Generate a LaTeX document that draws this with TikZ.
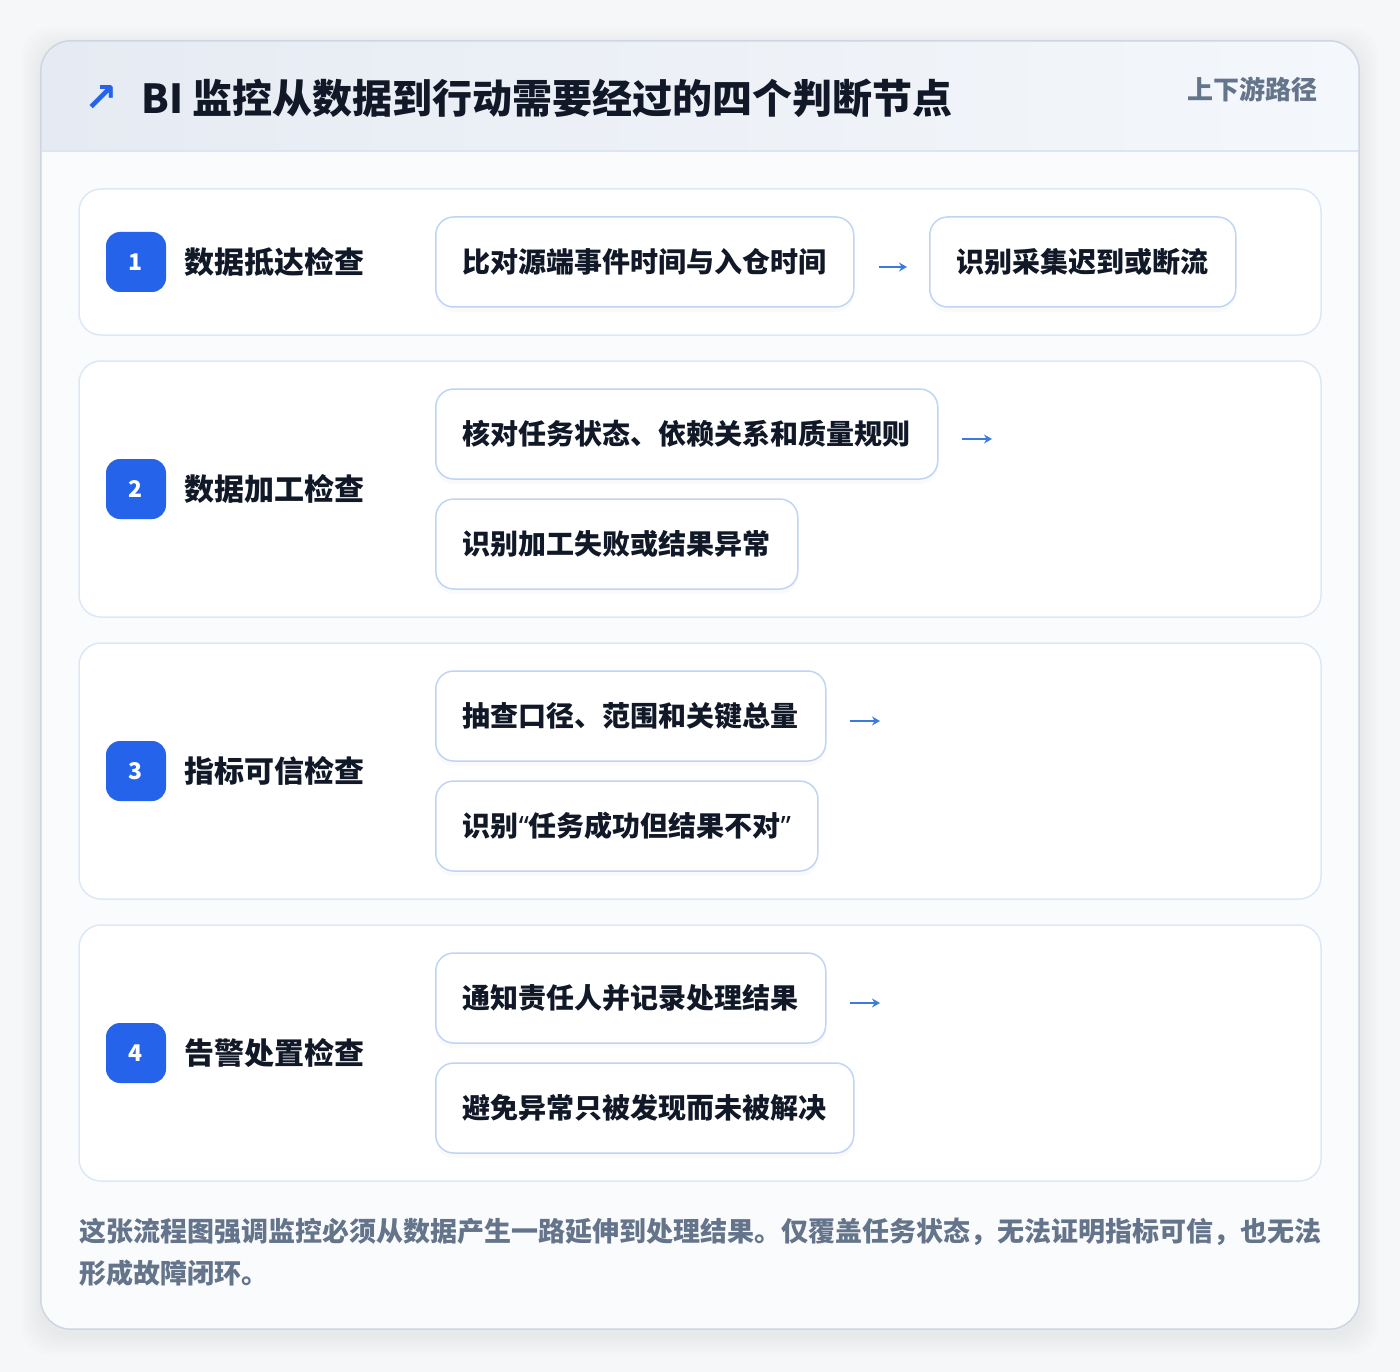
\documentclass[tikz,border=0pt]{standalone}
\usepackage{fontspec}
\setmainfont{Noto Sans CJK SC}
\newfontfamily\symfont{DejaVu Sans}
\newfontfamily\quotefont{Noto Sans}
\usetikzlibrary{arrows.meta,positioning,shadows}
\definecolor{pageColor}{HTML}{F6F7F9}
\definecolor{cardColor}{HTML}{FAFBFD}
\definecolor{cardEdge}{HTML}{CDD6E2}
\definecolor{headLeft}{HTML}{E6EBF3}
\definecolor{headRight}{HTML}{F4F7FB}
\definecolor{headLine}{HTML}{DCE6F3}
\definecolor{panelColor}{HTML}{DDE8F6}
\definecolor{stepColor}{HTML}{BFD5F5}
\definecolor{badgeColor}{HTML}{2563EB}
\definecolor{inkColor}{HTML}{111827}
\definecolor{mutedColor}{HTML}{64748B}
\definecolor{arrowColor}{HTML}{3B7BE0}
\newcommand{\openq}{{\quotefont\bfseries “}}
\newcommand{\closeq}{{\quotefont\bfseries ”}}
\begin{document}
\begin{tikzpicture}[x=1pt,y=-1pt,
	panel/.style={draw=panelColor, line width=1.5pt, fill=white, rounded corners=22pt, minimum width=1242pt, inner sep=0},
	badge/.style={fill=badgeColor, rounded corners=14pt, minimum size=60pt, inner sep=0, text=white, font=\fontsize{23}{25}\selectfont\bfseries},
	rowname/.style={anchor=west, inner sep=0, text=inkColor, font=\fontsize{30}{36}\selectfont\bfseries},
	stepbox/.style={draw=stepColor, line width=1.5pt, fill=white, rounded corners=18pt, minimum height=90pt, inner xsep=27pt, anchor=west, text=inkColor, font=\fontsize{28}{34}\selectfont\bfseries, drop shadow={opacity=0.04, shadow xshift=0pt, shadow yshift=-5pt}},
	flow/.style={draw=arrowColor, line width=2.5pt, -{Stealth[length=8pt,width=9pt]}}]
	\path[use as bounding box, fill=pageColor] (0,0) rectangle (1400,1372);
	% soft halo round the card
	\foreach \s in {2,5,...,20}
		\fill[black, opacity=0.008, rounded corners=30pt] (41-\s,47-\s) rectangle (1359+\s,1335+\s);
	\node[fill=cardColor, rounded corners=30pt, minimum width=1318pt, minimum height=1288pt, inner sep=0] (card) at (700,685) {};
	\begin{scope}
		\clip[rounded corners=30pt] (card.north west) rectangle (card.south east);
		\shade[left color=headLeft, right color=headRight] (41,41) rectangle (1359,151);
	\end{scope}
	\draw[headLine, line width=1.5pt] (41,151) -- (1359,151);
	\draw[cardEdge, line width=1.5pt, rounded corners=30pt] (card.north west) rectangle (card.south east);
	% header
	\node[inner sep=0, text=badgeColor, font=\symfont\bfseries\fontsize{40}{44}\selectfont] (icon) at (101,99) {↗};
	\node[anchor=west, inner sep=0, text=inkColor, font=\fontsize{40}{48}\selectfont\bfseries] (title) at (141,98) {BI 监控从数据到行动需要经过的四个判断节点};
	\node[anchor=east, inner sep=0, text=mutedColor, font=\fontsize{26}{30}\selectfont\bfseries] (tag) at (1318,89) {上下游路径};
	% row 1
	\node[panel, minimum height=146pt] (row1) at (700,262) {};
	\node[badge] (n1) at (136,262) {1};
	\node[rowname] (t1) at (184,262) {数据抵达检查};
	\node[stepbox] (s1a) at (435,262) {比对源端事件时间与入仓时间};
	\node[stepbox] (s1b) at (929,262) {识别采集迟到或断流};
	\draw[flow, shorten <=24pt, shorten >=22pt] ([yshift=-5pt]s1a.east) -- ([yshift=-5pt]s1b.west);
	% row 2
	\node[panel, minimum height=256pt] (row2) at (700,489) {};
	\node[badge] (n2) at (136,489) {2};
	\node[rowname] (t2) at (184,489) {数据加工检查};
	\node[stepbox] (s2a) at (435,434) {核对任务状态、依赖关系和质量规则};
	\node[stepbox] (s2b) at (435,544) {识别加工失败或结果异常};
	\coordinate (e2) at (992,439);
	\draw[flow, shorten <=23pt] ([yshift=-5pt]s2a.east) -- (e2);
	% row 3
	\node[panel, minimum height=256pt] (row3) at (700,771) {};
	\node[badge] (n3) at (136,771) {3};
	\node[rowname] (t3) at (184,771) {指标可信检查};
	\node[stepbox] (s3a) at (435,716) {抽查口径、范围和关键总量};
	\node[stepbox] (s3b) at (435,826) {识别\openq 任务成功但结果不对\closeq};
	\coordinate (e3) at (880,721);
	\draw[flow, shorten <=23pt] ([yshift=-5pt]s3a.east) -- (e3);
	% row 4
	\node[panel, minimum height=256pt] (row4) at (700,1053) {};
	\node[badge] (n4) at (136,1053) {4};
	\node[rowname] (t4) at (184,1053) {告警处置检查};
	\node[stepbox] (s4a) at (435,998) {通知责任人并记录处理结果};
	\node[stepbox] (s4b) at (435,1108) {避免异常只被发现而未被解决};
	\coordinate (e4) at (880,1003);
	\draw[flow, shorten <=23pt] ([yshift=-5pt]s4a.east) -- (e4);
	% note
	\node[anchor=north west, inner sep=0, align=left, text=mutedColor, font=\fontsize{27}{42}\selectfont\bfseries] (note) at (79,1218)
		{这张流程图强调监控必须从数据产生一路延伸到处理结果。仅覆盖任务状态，无法证明指标可信，也无法\\形成故障闭环。};
\end{tikzpicture}
\end{document}
